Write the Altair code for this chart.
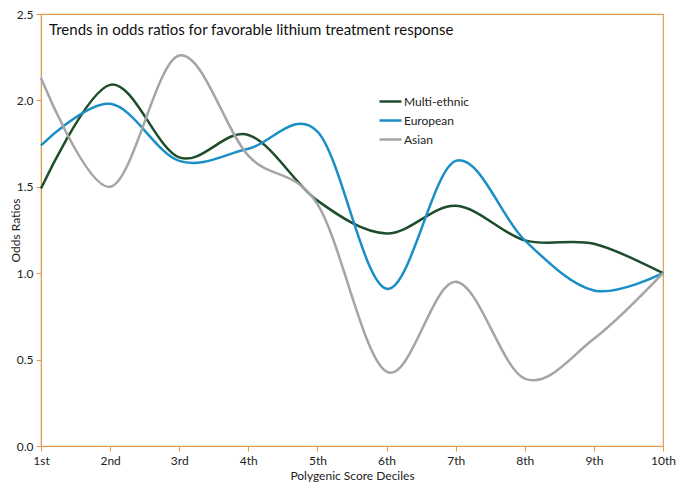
import altair as alt
import pandas as pd

deciles = ["1st", "2nd", "3rd", "4th", "5th", "6th", "7th", "8th", "9th", "10th"]
multi_ethnic = [1.49, 2.09, 1.67, 1.80, 1.42, 1.23, 1.39, 1.19, 1.17, 1.00]
european = [1.74, 1.98, 1.65, 1.72, 1.82, 0.91, 1.65, 1.19, 0.90, 1.00]
asian = [2.13, 1.50, 2.26, 1.68, 1.40, 0.43, 0.95, 0.39, 0.62, 1.00]
series_names = ["Multi-ethnic", "European", "Asian"]
series_colors = ["#1E4D2B", "#1A8FC6", "#A5A5A5"]
title_text = "Trends in odds ratios for favorable lithium treatment response"

rows = []
for name, vals in zip(series_names, [multi_ethnic, european, asian]):
    for d, v in zip(deciles, vals):
        rows.append({"Decile": d, "Odds": v, "Series": name})
df = pd.DataFrame(rows)

FONT = "Lato"
AX = "#E39B4F"

lines = alt.Chart(df).mark_line(interpolate="cardinal", strokeWidth=2.5).encode(
    x=alt.X("Decile:O", sort=deciles,
            scale=alt.Scale(type="point", padding=0),
            axis=alt.Axis(title="Polygenic Score Deciles", labelAngle=0,
                          domainColor=AX, tickColor=AX, tickSize=5,
                          labelFontSize=12, labelColor="#222", labelFont=FONT,
                          titleFont=FONT, titleFontSize=12, titleFontWeight="normal",
                          titleColor="#222", labelPadding=4, titlePadding=4)),
    y=alt.Y("Odds:Q", scale=alt.Scale(domain=[0, 2.5], nice=False),
            axis=alt.Axis(title="Odds Ratios", values=[0, 0.5, 1.0, 1.5, 2.0, 2.5],
                          format=".1f", grid=False, domainColor=AX, tickColor=AX,
                          tickSize=5, labelFontSize=12, labelColor="#222", labelFont=FONT,
                          titleFont=FONT, titleFontSize=12, titleFontWeight="normal",
                          titleColor="#222", labelPadding=3, titleX=-19)),
    color=alt.Color("Series:N", sort=series_names,
                    scale=alt.Scale(domain=series_names, range=series_colors),
                    legend=alt.Legend(title=None, orient="none", legendX=337, legendY=75,
                                      symbolType="stroke", symbolStrokeWidth=2.5,
                                      symbolSize=484, labelFontSize=12, labelFont=FONT,
                                      labelColor="#222", rowPadding=0, labelOffset=1)),
)

title = alt.Chart(pd.DataFrame({"t": [title_text]})).mark_text(
    align="left", baseline="middle", fontSize=15, font=FONT, color="#111"
).encode(x=alt.value(8), y=alt.value(16), text="t:N")

chart = alt.layer(lines, title).properties(
    width=622, height=432,
    autosize=alt.AutoSizeParams(type="none"),
    padding={"left": 33, "top": 6, "right": 14, "bottom": 38},
).configure_view(stroke=AX, strokeWidth=1.2)

chart.save("out.html", embed_options={"renderer": "svg", "actions": False})
